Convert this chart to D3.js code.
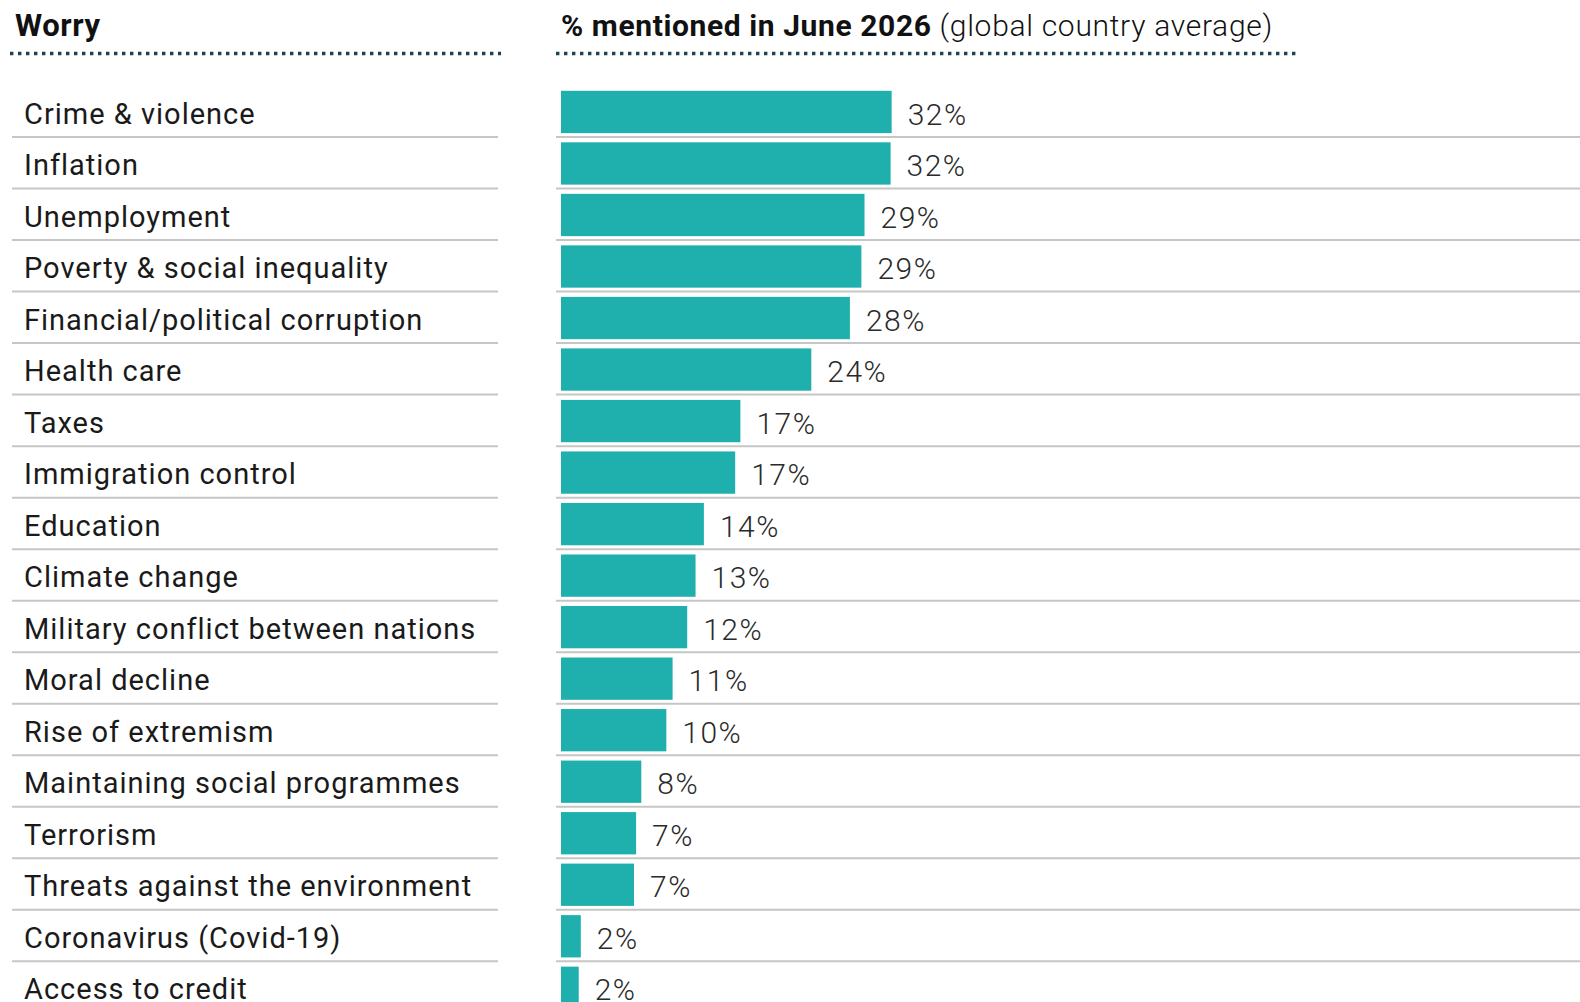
<!DOCTYPE html>
<html>
<head>
<meta charset="utf-8">
<script src="https://cdn.jsdelivr.net/npm/d3@7"></script>
<style>
  html, body { margin: 0; padding: 0; background: #fff; overflow: hidden; }
  svg { display: block; font-family: Roboto, "Noto Sans", sans-serif; }
</style>
</head>
<body>
<svg id="chart" width="1580" height="1002"></svg>
<script>
// worries, in chart order
var worries = [
    'Crime & violence',
    'Inflation',
    'Unemployment',
    'Poverty & social inequality',
    'Financial/political corruption',
    'Health care',
    'Taxes',
    'Immigration control',
    'Education',
    'Climate change',
    'Military conflict between nations',
    'Moral decline',
    'Rise of extremism',
    'Maintaining social programmes',
    'Terrorism',
    'Threats against the environment',
    'Coronavirus (Covid-19)',
    'Access to credit'
];

// % mentioned
var shares = [31.7, 31.6, 29.1, 28.8, 27.7, 24.0, 17.2, 16.7, 13.7, 12.9, 12.1, 10.7, 10.1, 7.7, 7.2, 7.0, 1.9, 1.7];

var headerLeft = 'Worry';
var headerBold = '% mentioned in June 2026';
var headerRest = ' (global country average)';

var rows = worries.map((w, i) => ({ worry: w, share: shares[i] }));

var svg = d3.select('#chart');

var x = d3.scaleLinear().domain([0, 100]).range([561, 561 + 1043]);
var y = d3.scaleBand().domain(worries).range([85.5, 85.5 + worries.length * 51.52]);

// headers
svg.append('text')
    .attr('x', 15).attr('y', 36)
    .attr('font-size', 31).attr('font-weight', 700).attr('fill', '#111')
    .attr('letter-spacing', 0.6)
    .text(headerLeft);

var rh = svg.append('text')
    .attr('x', 561).attr('y', 36)
    .attr('font-size', 30).attr('fill', '#111');
rh.append('tspan').attr('font-weight', 700).attr('letter-spacing', 0.6).text(headerBold);
rh.append('tspan').attr('font-weight', 300).attr('letter-spacing', 0.7).text(headerRest);

// dotted rules under headers
[[10, 501], [556, 1296]].forEach(function (seg) {
    svg.append('line')
        .attr('x1', seg[0]).attr('x2', seg[1])
        .attr('y1', 53.5).attr('y2', 53.5)
        .attr('stroke', '#1c4354')
        .attr('stroke-width', 3.4)
        .attr('stroke-dasharray', '3.4,4.6');
});

var row = svg.selectAll('g.row').data(rows).enter().append('g')
    .attr('class', 'row')
    .attr('transform', d => 'translate(0,' + y(d.worry) + ')');

// light separators under each row
row.append('line')
    .attr('x1', 12).attr('x2', 498)
    .attr('y1', y.step()).attr('y2', y.step())
    .attr('stroke', '#c6c6c6').attr('stroke-width', 2);
row.append('line')
    .attr('x1', 556).attr('x2', 1580)
    .attr('y1', y.step()).attr('y2', y.step())
    .attr('stroke', '#c6c6c6').attr('stroke-width', 2);

row.append('text')
    .attr('x', 24).attr('y', 38)
    .attr('font-size', 29).attr('fill', '#1a1a1a')
    .attr('letter-spacing', 1)
    .text(d => d.worry);

row.append('rect')
    .attr('x', x(0))
    .attr('y', 5.3)
    .attr('width', d => x(d.share) - x(0))
    .attr('height', 42.3)
    .attr('fill', '#1fb0ae');

row.append('text')
    .attr('x', d => x(d.share) + 16)
    .attr('y', 39)
    .attr('font-size', 30).attr('font-weight', 300).attr('fill', '#2a2a2a')
    .attr('letter-spacing', 1.5)
    .text(d => Math.round(d.share) + '%');
</script>
</body>
</html>
